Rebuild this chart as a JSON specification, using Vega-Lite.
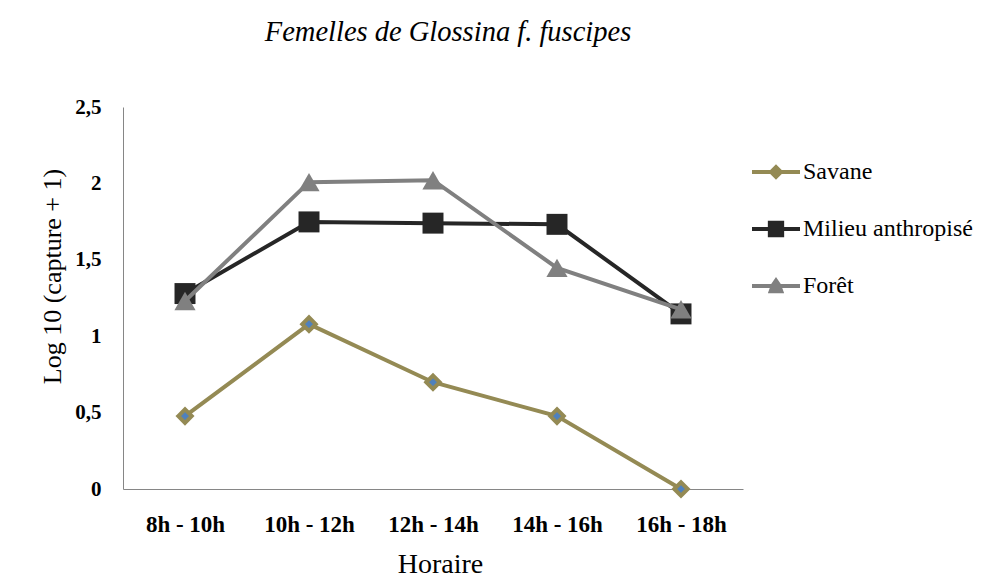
{
  "$schema": "https://vega.github.io/schema/vega-lite/v6.json",
  "width": 620,
  "height": 382,
  "autosize": {"type": "none"},
  "padding": {"left": 123, "top": 107, "right": 249, "bottom": 92},
  "background": "white",
  "config": {
    "view": {"stroke": null},
    "font": "Liberation Serif, serif",
    "title": {"font": "Liberation Serif, serif", "fontStyle": "italic"},
    "legend": {"labelFont": "Liberation Serif, serif", "labelLimit": 300},
    "axis": {"labelFont": "Liberation Serif, serif", "titleFont": "Liberation Serif, serif"}
  },
  "title": {
    "text": "Femelles de Glossina f. fuscipes",
    "font": "Liberation Serif, serif",
    "fontStyle": "italic",
    "fontWeight": "normal",
    "fontSize": 28.5,
    "color": "#000000",
    "anchor": "middle",
    "dx": 15,
    "offset": 50,
    "frame": "group"
  },
  "data": {
    "values": [
      {"horaire": "8h - 10h", "series": "Savane", "value": 0.477},
      {"horaire": "10h - 12h", "series": "Savane", "value": 1.079},
      {"horaire": "12h - 14h", "series": "Savane", "value": 0.699},
      {"horaire": "14h - 16h", "series": "Savane", "value": 0.477},
      {"horaire": "16h - 18h", "series": "Savane", "value": 0.0},
      {"horaire": "8h - 10h", "series": "Milieu anthropisé", "value": 1.279},
      {"horaire": "10h - 12h", "series": "Milieu anthropisé", "value": 1.748},
      {"horaire": "12h - 14h", "series": "Milieu anthropisé", "value": 1.74},
      {"horaire": "14h - 16h", "series": "Milieu anthropisé", "value": 1.732},
      {"horaire": "16h - 18h", "series": "Milieu anthropisé", "value": 1.146},
      {"horaire": "8h - 10h", "series": "Forêt", "value": 1.23},
      {"horaire": "10h - 12h", "series": "Forêt", "value": 2.008},
      {"horaire": "12h - 14h", "series": "Forêt", "value": 2.021},
      {"horaire": "14h - 16h", "series": "Forêt", "value": 1.447},
      {"horaire": "16h - 18h", "series": "Forêt", "value": 1.176}
    ]
  },
  "encoding": {
    "x": {
      "field": "horaire",
      "type": "nominal",
      "sort": ["8h - 10h", "10h - 12h", "12h - 14h", "14h - 16h", "16h - 18h"],
      "scale": {"type": "point", "padding": 0.5},
      "axis": {
        "title": "Horaire",
        "titleFont": "Liberation Serif, serif",
        "titleFontSize": 28,
        "titleFontWeight": "normal",
        "titleColor": "#000000",
        "titlePadding": 14,
        "titleX": 317,
        "labelFont": "Liberation Serif, serif",
        "labelFontSize": 23,
        "labelFontWeight": "bold",
        "labelColor": "#000000",
        "labelAngle": 0,
        "labelPadding": 24,
        "ticks": false,
        "domainColor": "#868686",
        "domainWidth": 1,
        "grid": false
      }
    },
    "y": {
      "field": "value",
      "type": "quantitative",
      "scale": {"domain": [0, 2.5], "nice": false, "zero": true},
      "axis": {
        "title": "Log 10 (capture + 1)",
        "titleFont": "Liberation Serif, serif",
        "titleFontSize": 26,
        "titleFontWeight": "normal",
        "titleColor": "#000000",
        "titlePadding": 9,
        "titleY": 169,
        "values": [0, 0.5, 1, 1.5, 2, 2.5],
        "labelExpr": "replace(datum.value + '', '.', ',')",
        "labelFont": "Liberation Serif, serif",
        "labelFontSize": 21,
        "labelFontWeight": "bold",
        "labelColor": "#000000",
        "labelPadding": 22,
        "ticks": false,
        "domainColor": "#868686",
        "domainWidth": 1,
        "grid": false
      }
    }
  },
  "layer": [
    {
      "transform": [{"filter": "datum.series === 'Savane'"}],
      "mark": {"type": "line", "color": "#948A54", "strokeWidth": 4},
      "encoding": {}
    },
    {
      "transform": [{"filter": "datum.series === 'Savane'"}],
      "mark": {"type": "point", "shape": "diamond", "filled": true, "fill": "#4F81BD", "stroke": "#948A54", "strokeWidth": 4, "size": 180, "opacity": 1}
    },
    {
      "transform": [{"filter": "datum.series === 'Milieu anthropisé'"}],
      "mark": {"type": "line", "color": "#262626", "strokeWidth": 4},
      "encoding": {}
    },
    {
      "transform": [{"filter": "datum.series === 'Milieu anthropisé'"}],
      "mark": {"type": "point", "shape": "square", "filled": true, "color": "#262626", "size": 440, "opacity": 1}
    },
    {
      "transform": [{"filter": "datum.series === 'Forêt'"}],
      "mark": {"type": "line", "color": "#808080", "strokeWidth": 4},
      "encoding": {}
    },
    {
      "transform": [{"filter": "datum.series === 'Forêt'"}],
      "mark": {"type": "point", "shape": "triangle-up", "filled": true, "color": "#808080", "size": 450, "opacity": 1}
    },
    {
      "transform": [{"filter": "false"}],
      "mark": {"type": "point", "filled": true, "opacity": 1},
      "encoding": {
        "shape": {
          "field": "series",
          "type": "nominal",
          "scale": {
            "domain": ["Savane", "Milieu anthropisé", "Forêt"],
            "range": [
              "M-1,-0.08H-0.24L0,-0.32L0.24,-0.08H1V0.08H0.24L0,0.32L-0.24,0.08H-1Z",
              "M-1,-0.08H-0.34V-0.34H0.34V-0.08H1V0.08H0.34V0.34H-0.34V0.08H-1Z",
              "M-1,-0.08H-0.2L0,-0.38L0.2,-0.08L0.34,0.3H-0.34L-0.2,-0.08ZM-1,-0.08H1V0.08H-1Z"
            ]
          },
          "legend": {
            "title": null,
            "orient": "none",
            "legendX": 629,
            "legendY": 41,
            "symbolSize": 2304,
            "symbolStrokeWidth": 0,
            "labelFont": "Liberation Serif, serif",
            "labelFontSize": 24,
            "labelLimit": 300,
            "labelColor": "#000000",
            "labelOffset": 3,
            "rowPadding": 21,
            "symbolOpacity": 1
          }
        },
        "color": {
          "field": "series",
          "type": "nominal",
          "scale": {
            "domain": ["Savane", "Milieu anthropisé", "Forêt"],
            "range": ["#948A54", "#262626", "#808080"]
          },
          "legend": {
            "title": null,
            "orient": "none",
            "legendX": 629,
            "legendY": 41,
            "symbolSize": 2304,
            "symbolStrokeWidth": 0,
            "labelFont": "Liberation Serif, serif",
            "labelFontSize": 24,
            "labelLimit": 300,
            "labelColor": "#000000",
            "labelOffset": 3,
            "rowPadding": 21,
            "symbolOpacity": 1
          }
        }
      }
    }
  ]
}
